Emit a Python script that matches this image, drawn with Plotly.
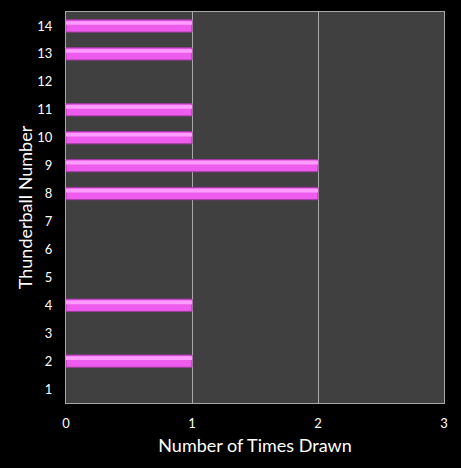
import plotly.graph_objects as go

# Thunderball numbers and how often each was drawn
numbers = list(range(1, 15))
times_drawn = [0, 1, 0, 1, 0, 0, 0, 2, 2, 1, 1, 0, 1, 1]
x_ticks = [0, 1, 2, 3]

# skip zero counts so no outline stub is drawn
bar_x = [v if v else None for v in times_drawn]

fig = go.Figure()

# main bar body
fig.add_trace(
    go.Bar(
        x=bar_x,
        y=numbers,
        orientation="h",
        marker=dict(color="#ee5cee", line=dict(color="#a03aa0", width=1)),
        width=0.44,
        offset=-0.22,
        hoverinfo="x+y",
        showlegend=False,
    )
)

# lighter highlight strip near the top for the glossy look
fig.add_trace(
    go.Bar(
        x=bar_x,
        y=numbers,
        orientation="h",
        marker=dict(color="#ff9cff", line=dict(width=0)),
        width=0.13,
        offset=0.04,
        hoverinfo="skip",
        showlegend=False,
    )
)

fig.update_layout(
    width=461,
    height=468,
    barmode="overlay",
    paper_bgcolor="black",
    plot_bgcolor="#404040",
    font=dict(family="Lato", color="white", size=13),
    margin=dict(l=66, r=17, t=12, b=65, autoexpand=False),
)

fig.update_xaxes(
    range=[0, 3],
    tickvals=x_ticks,
    showgrid=True,
    gridcolor="#a8a8a8",
    gridwidth=1,
    zeroline=False,
    showline=True,
    linecolor="#a8a8a8",
    mirror=True,
    ticks="outside",
    ticklen=8,
    tickcolor="black",
    automargin=False,
    title=dict(text="Number of Times Drawn", font=dict(size=18), standoff=9),
    tickfont=dict(size=13),
)

fig.update_yaxes(
    range=[0.5, 14.5],
    tickvals=numbers,
    showgrid=False,
    zeroline=False,
    showline=True,
    linecolor="#a8a8a8",
    mirror=True,
    ticks="outside",
    ticklen=10,
    tickcolor="black",
    automargin=False,
    title=dict(text="Thunderball Number", font=dict(size=18), standoff=0),
    tickfont=dict(size=13),
)

# drop the default page margin so the figure sits flush in the window
fig.write_html(
    "out.html",
    config={"displayModeBar": False},
    post_script="document.body.style.margin='0';document.body.style.background='black';",
)
